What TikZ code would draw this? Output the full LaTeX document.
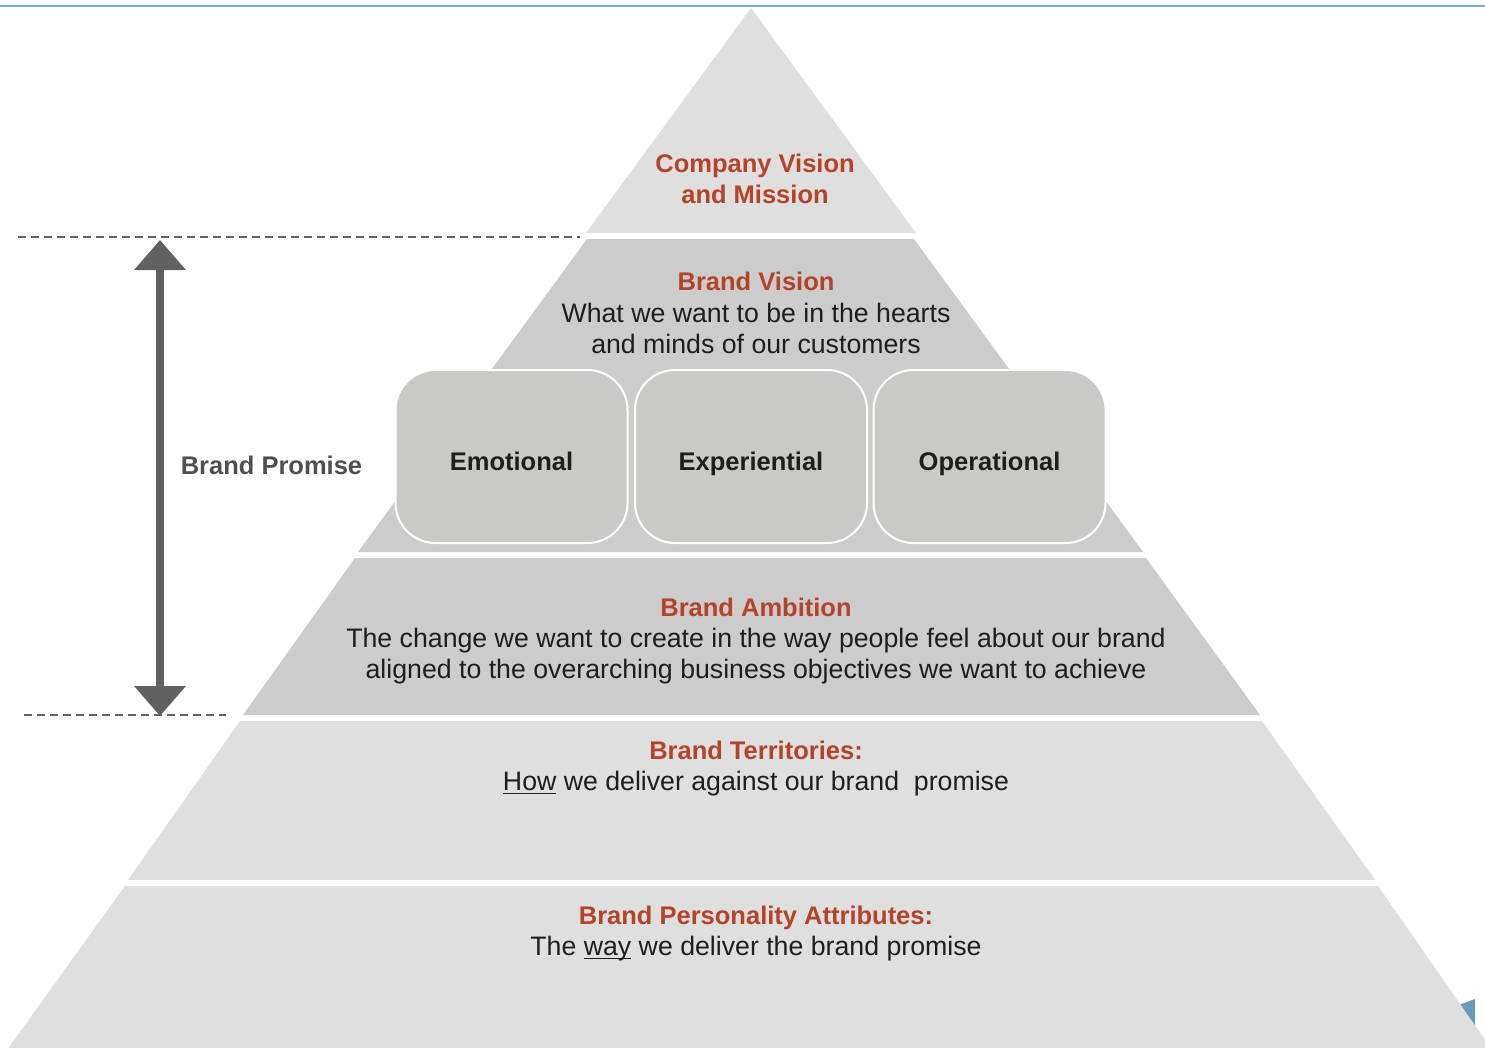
\documentclass[tikz,border=0pt]{standalone}
\usepackage{fontspec}
\setmainfont{Liberation Sans}
\usetikzlibrary{arrows.meta}
\definecolor{rust}{HTML}{B4432A}
\definecolor{ink}{HTML}{1E1E1E}
\definecolor{promisegray}{HTML}{4F4F4F}
\definecolor{lightlayer}{HTML}{DEDFDE}
\definecolor{darklayer}{HTML}{CBCCCB}
\definecolor{boxfill}{HTML}{C9CAC6}
\definecolor{arrowgray}{HTML}{616161}
\definecolor{topblue}{HTML}{79ADD5}
\definecolor{cornerblue}{HTML}{6A9AB6}
\newcommand\myul[1]{\setbox0\hbox{#1}\rlap{\rule[-3.5pt]{\wd0}{1.4pt}}\box0\relax}
\tikzset{
  titletext/.style={text=rust, font=\fontsize{25.5}{31}\selectfont\bfseries, align=center, inner sep=0pt},
  bodytext/.style={text=ink, font=\fontsize{26.7}{31}\selectfont, align=center, inner sep=0pt},
  pillarbox/.style={draw=white, line width=2pt, fill=boxfill, rounded corners=40pt,
     minimum width=232pt, minimum height=173pt, text=ink, font=\fontsize{25.5}{31}\selectfont\bfseries,
     text height=30pt, text depth=2.6pt},
  dashline/.style={draw=arrowgray, line width=2.6pt, dash pattern=on 8pt off 5pt},
  promisearrow/.style={draw=arrowgray, line width=8pt,
     {Triangle[width=50pt,length=30pt]}-{Triangle[width=50pt,length=30pt]}},
}
\begin{document}
\begin{tikzpicture}[x=1pt,y=-1pt]
\useasboundingbox (0,0) rectangle (1485,1047);
\fill[white] (0,0) rectangle (1485,1047);
% top blue rule
\draw[topblue, line width=1.6pt] (0,6) -- (1485,6);
% corner blue shape
\fill[cornerblue] (1386,1043.5) -- (1475,1043.5) -- (1475,999) -- (1440,1012) -- cycle;
\fill[cornerblue] (1386,1043.5) rectangle (1475,1047);
% pyramid layers
\fill[lightlayer] (751,8) -- (916,233) -- (586,233) -- cycle;
\fill[darklayer] (587,239) -- (914,239) -- (1143,552) -- (358,552) -- cycle;
\fill[darklayer] (355,558) -- (1146,558) -- (1260,715) -- (243,715) -- cycle;
\fill[lightlayer] (240,721) -- (1262,721) -- (1375,880) -- (128,880) -- cycle;
\fill[lightlayer] (125,886) -- (1378,886) -- (1492,1050) -- (7,1050) -- cycle;
% pillar boxes
\node[pillarbox] (emo) at (511.5,456.5) {Emotional};
\node[pillarbox] (exp) at (751,456.5) {Experiential};
\node[pillarbox] (ope) at (989.5,456.5) {Operational};
% texts
\node[titletext] (cvm) at (755,179) {Company Vision\\and Mission};
\node[titletext] (bv) at (756,281) {Brand Vision};
\node[bodytext] (bvt) at (756,328) {What we want to be in the hearts\\and minds of our customers};
\node[titletext] (ba) at (756,607) {Brand Ambition};
\node[bodytext] (bat) at (756,656.5) {The change we want to create in the way people feel about our brand\\aligned to the overarching business objectives we want to achieve};
\node[titletext] (bt) at (756,750) {Brand Territories:};
\node[bodytext] (btt) at (756,784) {\myul{How} we deliver against our brand\ \ promise};
\node[titletext] (bpa) at (756,917.5) {Brand Personality Attributes:};
\node[bodytext] (bpat) at (756,949) {The \myul{way} we deliver the brand promise};
\node[text=promisegray, font=\fontsize{25.5}{31}\selectfont\bfseries, inner sep=0pt] (bp) at (271.5,465) {Brand Promise};
% dashed guides
\coordinate (dtA) at (18,237);
\coordinate (dtB) at (580,237);
\coordinate (dbA) at (24,715);
\coordinate (dbB) at (226,715);
\draw[dashline] (dtA) -- (dtB);
\draw[dashline] (dbA) -- (dbB);
% promise arrow
\coordinate (ptop) at (160,240);
\coordinate (pbot) at (160,716);
\draw[promisearrow] (pbot) -- (ptop);
\end{tikzpicture}
\end{document}
